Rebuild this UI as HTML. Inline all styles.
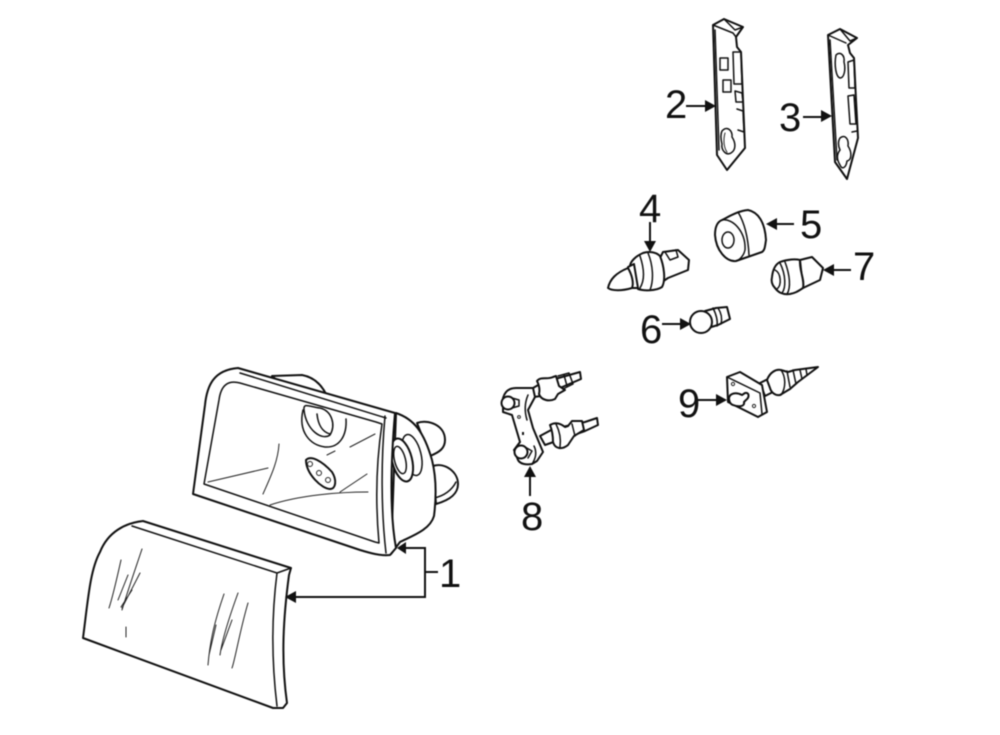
<!DOCTYPE html>
<html><head><meta charset="utf-8"><style>
html,body{margin:0;padding:0;background:#fff;width:1000px;height:735px;overflow:hidden}
svg{display:block;filter:blur(.5px)}
text{font-family:"Liberation Sans",sans-serif;font-size:40px;fill:#111}
.o{fill:#fff;stroke:#111;stroke-width:2;stroke-linejoin:round;stroke-linecap:round}
.n{fill:none;stroke:#111;stroke-width:1.5;stroke-linejoin:round;stroke-linecap:round}
.t{fill:none;stroke:#222;stroke-width:1;stroke-linecap:round}
.a{fill:none;stroke:#111;stroke-width:2}
.h{fill:#111;stroke:none}
</style></head><body>
<svg width="1000" height="735" viewBox="0 0 1000 735" xmlns="http://www.w3.org/2000/svg">
<!-- headlamp back bulbs -->
<path class="o" d="M272 376 L302 375 Q318 378 326 394 L300 400Z"/>
<path class="o" d="M417 423 C428 419 445 425 445 440 C445 448 440 452 430 456Z"/>
<path class="o" d="M433 466 C445 462 458 472 458 484 C458 494 450 500 436 504Z"/>
<path class="n" d="M434 498 C444 496 452 490 456 482"/>
<path class="o" d="M396 413 C414 419 424 432 432 460 C437 480 436 500 434 516 C430 530 412 536 400 542 L391 554Z"/>
<ellipse class="n" cx="412" cy="455" rx="9" ry="21" transform="rotate(-14 412 455)"/>
<ellipse class="o" cx="402" cy="460" rx="10" ry="22" transform="rotate(-14 402 460)"/>
<ellipse class="n" cx="400" cy="460" rx="5.5" ry="14" transform="rotate(-14 400 460)"/>
<!-- housing -->
<path class="o" d="M193 494 L205 405 C207 385 214 370 238 368 L395 413 C391 460 389 510 396 548 L390 555 C380 556 370 553 360 550 Z" />
<path class="n" d="M240 373 L386 418"/>
<path class="n" d="M204 484 L219 400 C221 385 228 380 240 383 L376 422 L382 424 C375 470 376 510 379 543 L375 542 Z"/>
<path class="n" d="M385 416 C381 460 381 510 386 553"/>
<!-- housing interior -->
<path class="n" d="M303 410 C298 432 310 445 325 447 C340 448 347 435 346 419"/>
<path class="n" d="M304 410 C303 402 310 407 320 408 C332 411 336 425 330 435 C322 441 306 430 304 410Z"/>
<path class="n" d="M317 414 C318 424 322 432 330 434"/>
<path class="t" d="M208 482 L268 468 M279 444 C278 462 270 478 263 494 M270 505 C300 495 340 492 368 492 M340 492 L367 474 M350 447 L375 434 M327 455 L335 451"/>
<path class="o" d="M306 460 C311 455 322 461 332 472 C337 480 336 489 330 489 C322 489 306 474 306 460Z"/>
<circle class="t" cx="310" cy="464" r="2.5"/><circle class="t" cx="319" cy="473" r="2.5"/><circle class="t" cx="328" cy="480" r="2.5"/>
<!-- lens -->
<path class="o" d="M83 638 C88 600 90 570 100 552 C108 532 125 523 143 521 L291 568 L289 575 C283 620 281 660 287 703 L283 708 L273 708 Z"/>
<path class="n" d="M132 526 L277 573 L291 568 M277 573 C271 620 272 665 277 706"/>
<path class="t" d="M142 549 C135 570 128 590 122 610 M121 560 C117 578 113 596 109 608 M128 575 L118 600 M140 573 L122 608 M132 590 L121 607 M126 627 L126 637 M224 594 C215 620 210 640 208 665 M238 593 C230 615 222 640 220 655 M248 603 C240 630 235 660 232 668 M216 625 L209 655 M232 620 L221 650"/>
<!-- callout 1 -->
<path class="a" d="M404 548 H425 V597 H291 M425 572 H438"/>
<path class="h" d="M397 548 L406 542 L406 554Z M285 597 L296 591 L296 603Z"/>
<text x="439" y="587">1</text>
<!-- bracket 2 -->
<path class="o" d="M713 25 L724 19 L743 27 L736 37 L737 47 L741 52 L743 100 L745 148 L727 170 L717 155 Z"/>
<path class="n" d="M724 19 L735 30 L743 27 M713 25 L733 33 L736 37 M715 30 L719 150"/>
<path class="n" d="M733 52 L741 52 L742 84 L734 84Z M735 91 L742 93 L743 102 L736 102Z M737 109 L743 111 L744 132 L738 130"/>
<rect class="n" x="720" y="58" width="8" height="12"/>
<rect class="n" x="723" y="80" width="8" height="12"/>
<path class="n" d="M722 131 C727 125 733 131 732 137 C736 143 736 150 731 153 C726 156 721 150 722 144 C721 140 720 135 722 131Z"/>
<path class="t" d="M725 133 C723 140 724 148 727 152"/>
<!-- bracket 3 -->
<path class="o" d="M828 35 L840 29 L857 38 L848 45 L850 53 L854 58 L856 100 L858 138 L847 179 L835 162 Z"/>
<path class="n" d="M840 29 L850 41 L857 38 M828 35 L846 43 M830 40 L837 160"/>
<path class="n" d="M836 55 C840 51 845 55 844 62 C846 70 844 78 840 78 C836 77 834 65 836 55Z"/>
<path class="n" d="M848 62 L854 60 L855 88 L849 88Z M848 96 L854 95 L856 124 L850 124Z M852 132 L857 131"/>
<path class="n" d="M840 138 C845 134 849 139 848 146 C852 152 852 160 847 161 C846 168 842 170 840 165 C837 160 836 155 840 150 C838 146 838 141 840 138Z"/>
<!-- callouts 2,3 -->
<text x="665" y="118">2</text>
<path class="a" d="M686 106 H708"/><path class="h" d="M716 106 L705 100 L705 112Z"/>
<text x="779" y="131">3</text>
<path class="a" d="M803 117 H824"/><path class="h" d="M832 116 L821 110 L821 122Z"/>
<!-- part 4 -->
<path class="o" d="M660 258 L663 252 L678 250 L689 260 L688 270 L668 278 L662 282Z"/>
<path class="n" d="M665 252 L676 250 L678 257 L670 260Z"/>
<path class="o" d="M630 268 C629 262 636 256 643 253 C649 251 656 252 660 256 C664 266 666 280 662 287 C656 291 644 291 638 289Z"/>
<path class="n" d="M648 253 C653 265 654 280 650 290 M640 256 C644 268 645 280 640 288"/>
<path class="o" d="M628 267 L634 264 L638 288 L630 288 Z"/>
<path class="o" d="M608 288 C610 279 616 273 628 268 C632 275 634 283 632 288 C622 291 612 291 608 288Z"/>
<!-- part 5 -->
<path class="o" d="M722 220 C730 216 738 211 748 210 C758 212 765 222 766 240 C765 246 765 250 762 252 L736 261 C726 262 716 250 715 235 C715 228 717 222 722 220Z"/>
<path class="n" d="M722 220 C733 218 746 232 745 250 C744 255 740 260 736 261 M738 212 C744 222 748 235 749 255"/>
<ellipse class="n" cx="728" cy="240" rx="6" ry="8"/>
<!-- part 7 -->
<path class="o" d="M800 260 L812 257 L823 268 L820 280 L803 288Z"/>
<path class="o" d="M772 277 C773 268 776 264 780 262 C788 259 796 259 800 260 C799 270 805 280 803 288 C797 292 795 293 790 294 C782 295 778 292 775 288 C772 285 771 281 772 277Z"/>
<path class="n" d="M780 263 C786 275 786 288 782 293 M785 262 C790 275 791 288 787 294 M775 270 C781 273 782 285 777 289"/>
<!-- part 6 -->
<path class="o" d="M705 311 L716 308 L727 307 L730 319 L718 325 L708 328 Z"/>
<path class="n" d="M713 308 C716 314 718 320 717 326 M718 308 C722 314 722 320 721 324"/>
<circle class="o" cx="701" cy="322" r="11"/>
<!-- callouts 4,5,6,7 -->
<text x="639" y="222">4</text>
<path class="a" d="M650 222 V244"/><path class="h" d="M650 252 L644 241 L656 241Z"/>
<text x="800" y="238">5</text>
<path class="a" d="M775 224 H794"/><path class="h" d="M766 224 L777 218 L777 230Z"/>
<text x="640" y="343">6</text>
<path class="a" d="M662 324 H683"/><path class="h" d="M691 324 L680 318 L680 330Z"/>
<text x="853" y="280">7</text>
<path class="a" d="M832 270 H851"/><path class="h" d="M823 270 L834 264 L834 276Z"/>
<!-- part 8 -->
<path class="o" d="M533 388 L540 384 L555 379 L580 372 L581 379 L560 388 L541 396 L534 397Z"/>
<path class="o" d="M537 381 C541 376 547 380 553 377 L556 376 L559 386 L565 390 L558 394 L555 399 C549 402 541 400 539 394 C540 390 539 385 537 381Z"/>
<path class="n" d="M558 376 L569 373 L573 384 L563 389 M564 375 L567 386"/>
<path class="o" d="M540 436 L553 429 L585 422 L597 418 L598 425 L585 431 L545 445Z"/>
<path class="o" d="M550 425 C555 422 560 423 565 427 L568 426 L572 421 L582 421 L584 430 L574 436 L568 445 C562 450 555 449 553 442 C553 436 552 430 550 425Z"/>
<path class="n" d="M556 424 C560 432 561 440 560 447 M572 424 L575 436"/>
<path class="o" d="M503 398 C505 391 510 388 516 388 L533 388 L535 397 L528 410 L533 428 L543 452 L537 461 L532 464 C526 465 520 464 518 460 L514 450 L520 442 L512 415 L503 412 Z"/>
<path class="n" d="M534 446 C537 452 536 458 532 464 M528 395 C525 402 524 410 527 420"/>
<circle class="o" cx="508" cy="403" r="6.5"/><circle class="o" cx="521" cy="452" r="6.5"/>
<path class="n" d="M512 398 L519 400 L519 406 L512 408 M525 447 L532 451 L528 458"/>
<circle class="t" cx="519" cy="417" r="1.4"/><rect x="522" y="432" width="2" height="3" class="h"/>
<path class="a" d="M530 475 V496"/><path class="h" d="M530 466 L524 477 L536 477Z"/>
<text x="521" y="530">8</text>
<!-- part 9 -->
<path class="o" d="M760 383 L770 378 L775 391 L765 396Z"/>
<path class="o" d="M767 380 C770 372 776 369 781 370 C785 371 787 372 788 372 L795 370 L818 367 L798 382 L790 389 L780 395 C775 396 771 392 770 388Z"/>
<path class="n" d="M781 370 C786 377 786 388 781 395 M787 371 L790 387 M793 370 L796 384 M800 370 L802 379 M806 369 L807 375"/>
<path class="o" d="M727 377 L740 372 L762 385 L767 412 L758 417 L728 402Z"/>
<path class="n" d="M727 377 L760 393 L762 414"/>
<circle class="t" cx="733" cy="384" r="1.6"/><circle class="t" cx="754" cy="406" r="1.6"/>
<path class="o" d="M729 398 C730 393 736 392 742 395 L745 393 C749 392 750 397 746 400 L744 402 C745 407 738 407 733 405 C730 404 729 401 729 398Z"/>
<path class="a" d="M698 400 H719"/><path class="h" d="M727 400 L716 394 L716 406Z"/>
<text x="678" y="417">9</text>
</svg>
</body></html>
